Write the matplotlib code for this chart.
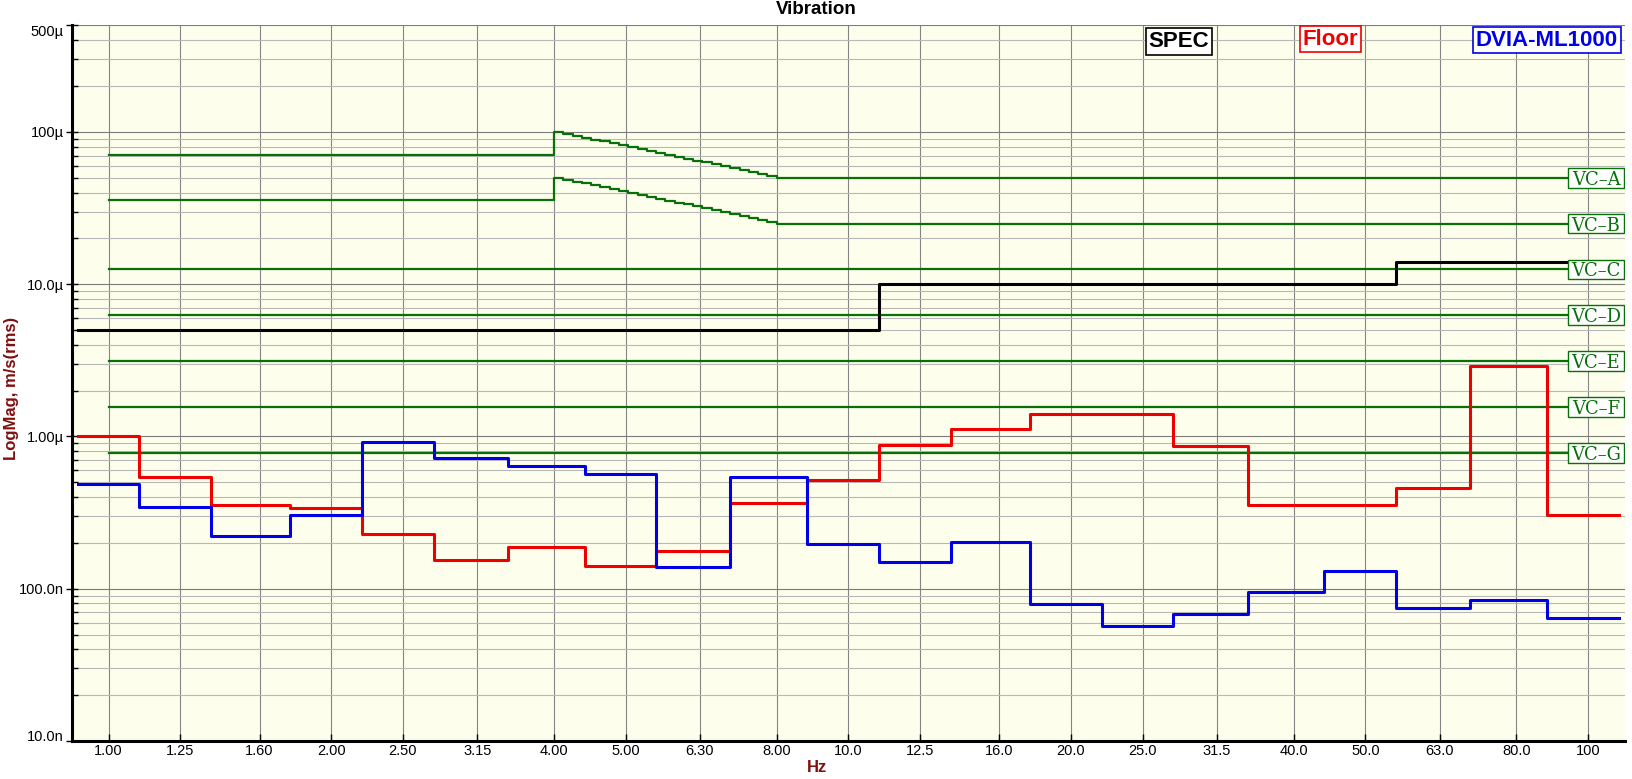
import numpy as np
import matplotlib.pyplot as plt
from matplotlib.patches import Rectangle
from matplotlib.ticker import FixedLocator, NullLocator
from matplotlib.transforms import blended_transform_factory

plt.rcParams['font.family'] = ['Liberation Sans', 'DejaVu Sans']

# 1/3 octave bands (Hz)
band_hz = [1.0, 1.25, 1.6, 2.0, 2.5, 3.15, 4.0, 5.0, 6.3, 8.0, 10.0,
           12.5, 16.0, 20.0, 25.0, 31.5, 40.0, 50.0, 63.0, 80.0, 100.0]
band_labels = ['1.00', '1.25', '1.60', '2.00', '2.50', '3.15', '4.00', '5.00',
               '6.30', '8.00', '10.0', '12.5', '16.0', '20.0', '25.0', '31.5',
               '40.0', '50.0', '63.0', '80.0', '100']

# band levels, um/s rms
floor_um = [1.00, 0.54, 0.356, 0.340, 0.230, 0.155, 0.189, 0.142, 0.177, 0.365, 0.519,
            0.881, 1.12, 1.41, 1.41, 0.869, 0.356, 0.356, 0.460, 2.92, 0.306]
dvia_um = [0.486, 0.345, 0.223, 0.303, 0.918, 0.725, 0.639, 0.569, 0.139, 0.541, 0.197,
           0.150, 0.202, 0.0798, 0.0572, 0.0685, 0.0956, 0.131, 0.075, 0.0838, 0.0645]
spec_um = [5, 5, 5, 5, 5, 5, 5, 5, 5, 5, 5,
           10, 10, 10, 10, 10, 10, 10, 14, 14, 14]

# VC criteria (um/s)
vc_names = ['VC\u2013A', 'VC\u2013B', 'VC\u2013C', 'VC\u2013D', 'VC\u2013E', 'VC\u2013F', 'VC\u2013G']
vc_level_um = [50, 25, 12.5, 6.25, 3.12, 1.56, 0.78]
vc_low_um = [71, 35.5]          # VC-A, VC-B below 4 Hz
vc_ramp_hz = [4.00, 4.12, 4.24, 4.36, 4.49, 4.62, 4.76, 4.90, 5.04, 5.19, 5.34, 5.50, 5.66,
              5.83, 5.99, 6.17, 6.35, 6.54, 6.73, 6.92, 7.13, 7.34, 7.55, 7.77, 8.00]
vc_a_ramp = [100, 97.2, 94.4, 91.7, 89.1, 86.6, 84.1, 81.7, 79.4, 77.1, 74.9, 72.8, 70.7,
             68.7, 66.7, 64.8, 63.0, 61.2, 59.5, 57.8, 56.1, 54.5, 53.0, 51.5, 50]
vc_b_ramp = [50, 48.6, 47.2, 45.9, 44.5, 43.3, 42.0, 40.8, 39.7, 38.6, 37.5, 36.4, 35.4,
             34.3, 33.4, 32.4, 31.5, 30.6, 29.7, 28.9, 28.1, 27.3, 26.5, 25.7, 25]

green = '#087008'
red = '#ee0000'
blue = '#0000e6'
dark_red = '#801010'

x_lo, x_hi = 0.891, 112.2
half_band = 1.1

W, H = 1632, 779
fig = plt.figure(figsize=(W / 100, H / 100), dpi=100)
ax = fig.add_axes([71.5 / W, 1 - 741 / H, (1625 - 71.5) / W, (741 - 25.5) / H])
ax.set_xscale('log')
ax.set_yscale('log')
ax.set_xlim(x_lo, x_hi)
ax.set_ylim(1e-8, 5e-4)
ax.set_facecolor('#fefeec')

# step edges of the bands
edges = [band_hz[0] / half_band] + [b * half_band for b in band_hz]


def band_steps(vals):
    return edges, [v * 1e-6 for v in vals] + [vals[-1] * 1e-6]


# VC curves with their tags at the right
tag_tr = blended_transform_factory(ax.transAxes, ax.transData)
box_x0, box_x1 = 0.9633, 0.9994
box_half = 1.16   # half box height as a ratio on the log axis
for i, (name, lvl) in enumerate(zip(vc_names, vc_level_um)):
    if i < 2:
        ramp = vc_a_ramp if i == 0 else vc_b_ramp
        xs = [band_hz[0]] + vc_ramp_hz + [x_hi]
        ys = [vc_low_um[i]] + ramp + [ramp[-1]]
    else:
        xs = [band_hz[0], x_hi]
        ys = [lvl, lvl]
    ax.plot(xs, [y * 1e-6 for y in ys], drawstyle='steps-post', color=green, lw=1.6, zorder=3)
    y0 = lvl * 1e-6 / box_half
    ax.add_patch(Rectangle((box_x0, y0), box_x1 - box_x0, lvl * 1e-6 * box_half - y0,
                           transform=tag_tr, fc='white', ec=green, lw=1, zorder=7))
    ax.text((box_x0 + box_x1) / 2, lvl * 1e-6, name, transform=tag_tr,
            ha='center', va='center_baseline', fontsize=13, family='DejaVu Serif',
            color=green, zorder=8)

xs, ys = band_steps(spec_um)
ax.plot(xs, ys, drawstyle='steps-post', color='black', lw=2.2, zorder=4)
xs, ys = band_steps(floor_um)
ax.plot(xs, ys, drawstyle='steps-post', color=red, lw=2.2, zorder=5)
xs, ys = band_steps(dvia_um)
ax.plot(xs, ys, drawstyle='steps-post', color=blue, lw=2.2, zorder=6)

# axes, ticks, grid
ax.xaxis.set_major_locator(FixedLocator(band_hz))
ax.xaxis.set_minor_locator(NullLocator())
ax.set_xticklabels(band_labels)
y_major = [1e-8, 1e-7, 1e-6, 1e-5, 1e-4, 5e-4]
ax.yaxis.set_major_locator(FixedLocator(y_major))
ax.set_yticklabels(['10.0n', '100.0n', '1.00\u00b5', '10.0\u00b5', '100\u00b5', '500\u00b5'])
y_minor = [m * 10.0 ** e for e in range(-8, -3) for m in range(2, 10) if m * 10.0 ** e < 4.9e-4]
ax.yaxis.set_minor_locator(FixedLocator(y_minor))

ax.set_axisbelow(True)
ax.grid(True, which='major', axis='x', color='#858585', lw=0.8)
ax.grid(True, which='major', axis='y', color='#7c7c7c', lw=0.8)
ax.grid(True, which='minor', axis='y', color='#b8b8b8', lw=0.8)

ax.tick_params(axis='x', which='major', direction='in', length=5, width=1, pad=2, labelsize=10.5)
ax.tick_params(axis='y', which='major', direction='inout', length=9, width=1, pad=1, labelsize=10.5)
ax.tick_params(axis='y', which='minor', direction='in', length=4.5, width=1)

ticks = ax.yaxis.get_major_ticks()
ticks[0].label1.set_verticalalignment('baseline')
ticks[-1].label1.set_verticalalignment('top')

for s in ['top', 'right']:
    ax.spines[s].set_visible(False)
for s in ['left', 'bottom']:
    ax.spines[s].set_linewidth(2.2)

# series tags
tag = dict(transform=ax.transAxes, ha='center', va='center', fontsize=16, fontweight='bold', zorder=8)
ax.text(0.7126, 0.9776, 'SPEC', color='black',
        bbox=dict(boxstyle='square,pad=0.12', fc='white', ec='black', lw=1.2), **tag)
ax.text(0.8104, 0.9810, 'Floor', color=red,
        bbox=dict(boxstyle='square,pad=0.12', fc='white', ec=red, lw=1.2), **tag)
ax.text(0.9498, 0.9797, 'DVIA-ML1000', color=blue,
        bbox=dict(boxstyle='square,pad=0.12', fc='white', ec=blue, lw=1.2), **tag)

fig.text(0.5, 1 - 14 / H, 'Vibration', ha='center', va='baseline', fontsize=13.5, fontweight='bold')
fig.text(12 / W, 1 - 388 / H, 'LogMag, m/s(rms)', rotation=90, ha='center', va='center',
         fontsize=12, fontweight='bold', color=dark_red)
fig.text(817 / W, 1 - 768 / H, 'Hz', ha='center', va='center', fontsize=12, fontweight='bold', color=dark_red)

fig.savefig('out.png', dpi=100)
